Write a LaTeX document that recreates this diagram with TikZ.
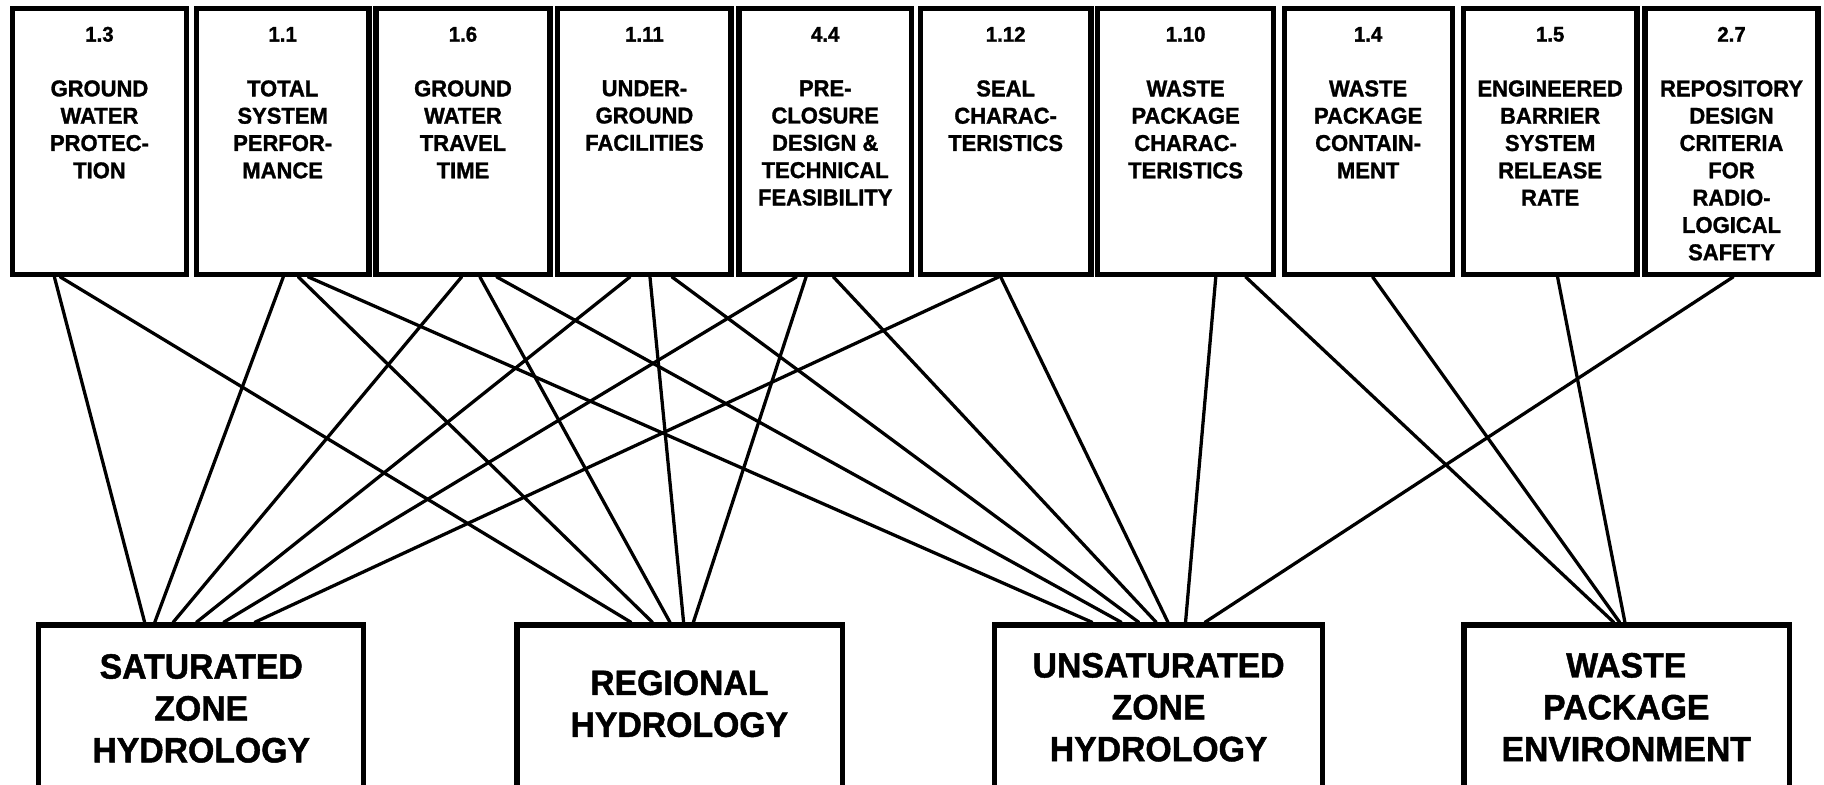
\documentclass[tikz,border=0pt]{standalone}
\usepackage{fontspec}
\setmainfont{Liberation Sans}[FakeStretch=0.96,BoldFeatures={FakeBold=1.3}]
\usetikzlibrary{fit,calc}
\begin{document}
\begin{tikzpicture}[x=0.25mm,y=-0.25mm,
  topbox/.style={draw=black,line width=3.2pt,inner sep=0pt,fill=none},
  botbox/.style={draw=black,line width=3.2pt,inner sep=0pt,fill=none},
  numtext/.style={font=\fontsize{13pt}{15pt}\selectfont\bfseries,inner sep=0pt},
  toptext/.style={font=\fontsize{14pt}{16.7pt}\selectfont\bfseries,inner sep=0pt,align=center,anchor=north},
  bottext/.style={font=\fontsize{21.5pt}{25.6pt}\selectfont\bfseries,inner sep=0pt,align=center,anchor=north},
  link/.style={draw=black,line width=2pt,line cap=round}]
\useasboundingbox (0,0) rectangle (1568,674);
\fill[white] (0,0) rectangle (1568,674);
\clip (0,0) rectangle (1568,674);

% top boxes (outer edges: y 5..238)
\node[topbox,fit={(10.7,7.2) (160.3,235.8)}] (t1) {};
\node[topbox,fit={(168.7,7.2) (317.2,235.8)}] (t2) {};
\node[topbox,fit={(323.2,7.2) (472.8,235.8)}] (t3) {};
\node[topbox,fit={(479.5,7.2) (628.4,235.8)}] (t4) {};
\node[topbox,fit={(635.2,7.2) (783.5,235.8)}] (t5) {};
\node[topbox,fit={(791.2,7.2) (937.8,235.8)}] (t6) {};
\node[topbox,fit={(943.5,7.2) (1094.8,235.8)}] (t7) {};
\node[topbox,fit={(1103.9,7.2) (1248.3,235.8)}] (t8) {};
\node[topbox,fit={(1257.8,7.2) (1407.3,235.8)}] (t9) {};
\node[topbox,fit={(1414.2,7.2) (1562.8,235.8)}] (t10) {};

\node[numtext] (n1) at (85.5,29.5) {1.3};
\node[numtext] (n2) at (243,29.5) {1.1};
\node[numtext] (n3) at (398,29.5) {1.6};
\node[numtext] (n4) at (554,29.5) {1.11};
\node[numtext] (n5) at (709.4,29.5) {4.4};
\node[numtext] (n6) at (864.5,29.5) {1.12};
\node[numtext] (n7) at (1019.2,29.5) {1.10};
\node[numtext] (n8) at (1176.1,29.5) {1.4};
\node[numtext] (n9) at (1332.6,29.5) {1.5};
\node[numtext] (n10) at (1488.5,29.5) {2.7};

\node[toptext] (x1) at (85.5,68.8) {GROUND\\WATER\\PROTEC-\\TION};
\node[toptext] (x2) at (243,68.8) {TOTAL\\SYSTEM\\PERFOR-\\MANCE};
\node[toptext] (x3) at (398,68.8) {GROUND\\WATER\\TRAVEL\\TIME};
\node[toptext] (x4) at (554,68.8) {UNDER-\\GROUND\\FACILITIES};
\node[toptext] (x5) at (709.4,68.8) {PRE-\\CLOSURE\\DESIGN \&\\TECHNICAL\\FEASIBILITY};
\node[toptext] (x6) at (864.5,68.8) {SEAL\\CHARAC-\\TERISTICS};
\node[toptext] (x7) at (1019.2,68.8) {WASTE\\PACKAGE\\CHARAC-\\TERISTICS};
\node[toptext] (x8) at (1176.1,68.8) {WASTE\\PACKAGE\\CONTAIN-\\MENT};
\node[toptext] (x9) at (1332.6,68.8) {ENGINEERED\\BARRIER\\SYSTEM\\RELEASE\\RATE};
\node[toptext] (x10) at (1488.5,68.8) {REPOSITORY\\DESIGN\\CRITERIA\\FOR\\RADIO-\\LOGICAL\\SAFETY};

% bottom boxes (outer top at y 535)
\node[botbox,fit={(33,537.2) (312.8,710)}] (b1) {};
\node[botbox,fit={(444.4,537.2) (724.3,710)}] (b2) {};
\node[botbox,fit={(855.2,537.2) (1137.1,710)}] (b3) {};
\node[botbox,fit={(1258.5,537.2) (1538,710)}] (b4) {};

\node[bottext] (y1) at (173,562) {SATURATED\\ZONE\\HYDROLOGY};
\node[bottext] (y2) at (584,576) {REGIONAL\\HYDROLOGY};
\node[bottext] (y3) at (996,561) {UNSATURATED\\ZONE\\HYDROLOGY};
\node[bottext] (y4) at (1398,561) {WASTE\\PACKAGE\\ENVIRONMENT};

% connectors to SATURATED ZONE HYDROLOGY
\draw[link] ($(t1.south west)+(38.3,0)$) -- ($(b1.north west)+(93.6,0)$);
\draw[link] ($(t2.south west)+(77.1,0)$) -- ($(b1.north west)+(102.3,0)$);
\draw[link] ($(t3.south west)+(75.9,0)$) -- ($(b1.north west)+(118.1,0)$);
\draw[link] ($(t4.south west)+(64.3,0)$) -- ($(b1.north west)+(138.1,0)$);
\draw[link] ($(t5.south west)+(51.7,0)$) -- ($(b1.north west)+(161.5,0)$);
\draw[link] ($(t6.south west)+(69.6,0)$) -- ($(b1.north west)+(188.3,0)$);
% connectors to REGIONAL HYDROLOGY
\draw[link] ($(t1.south west)+(43.3,0)$) -- ($(b2.north west)+(100.3,0)$);
\draw[link] ($(t2.south west)+(90,0)$) -- ($(b2.north west)+(118.7,0)$);
\draw[link] ($(t3.south west)+(91.6,0)$) -- ($(b2.north west)+(133.8,0)$);
\draw[link] ($(t4.south west)+(81.5,0)$) -- ($(b2.north west)+(145.5,0)$);
\draw[link] ($(t5.south west)+(60,0)$) -- ($(b2.north west)+(153.9,0)$);
% connectors to UNSATURATED ZONE HYDROLOGY
\draw[link] ($(t2.south west)+(98.5,0)$) -- ($(b3.north west)+(85.9,0)$);
\draw[link] ($(t3.south west)+(106,0)$) -- ($(b3.north west)+(111,0)$);
\draw[link] ($(t4.south west)+(100.4,0)$) -- ($(b3.north west)+(126,0)$);
\draw[link] ($(t5.south west)+(83.5,0)$) -- ($(b3.north west)+(141,0)$);
\draw[link] ($(t6.south west)+(71.3,0)$) -- ($(b3.north west)+(151.1,0)$);
\draw[link] ($(t7.south west)+(103.9,0)$) -- ($(b3.north west)+(166.2,0)$);
\draw[link] ($(t10.south west)+(78,0)$) -- ($(b3.north west)+(182.9,0)$);
% connectors to WASTE PACKAGE ENVIRONMENT
\draw[link] ($(t7.south west)+(129.6,0)$) -- ($(b4.north west)+(131,0)$);
\draw[link] ($(t8.south west)+(78.3,0)$) -- ($(b4.north west)+(136.1,0)$);
\draw[link] ($(t9.south west)+(83.4,0)$) -- ($(b4.north west)+(140.6,0)$);
\end{tikzpicture}
\end{document}
